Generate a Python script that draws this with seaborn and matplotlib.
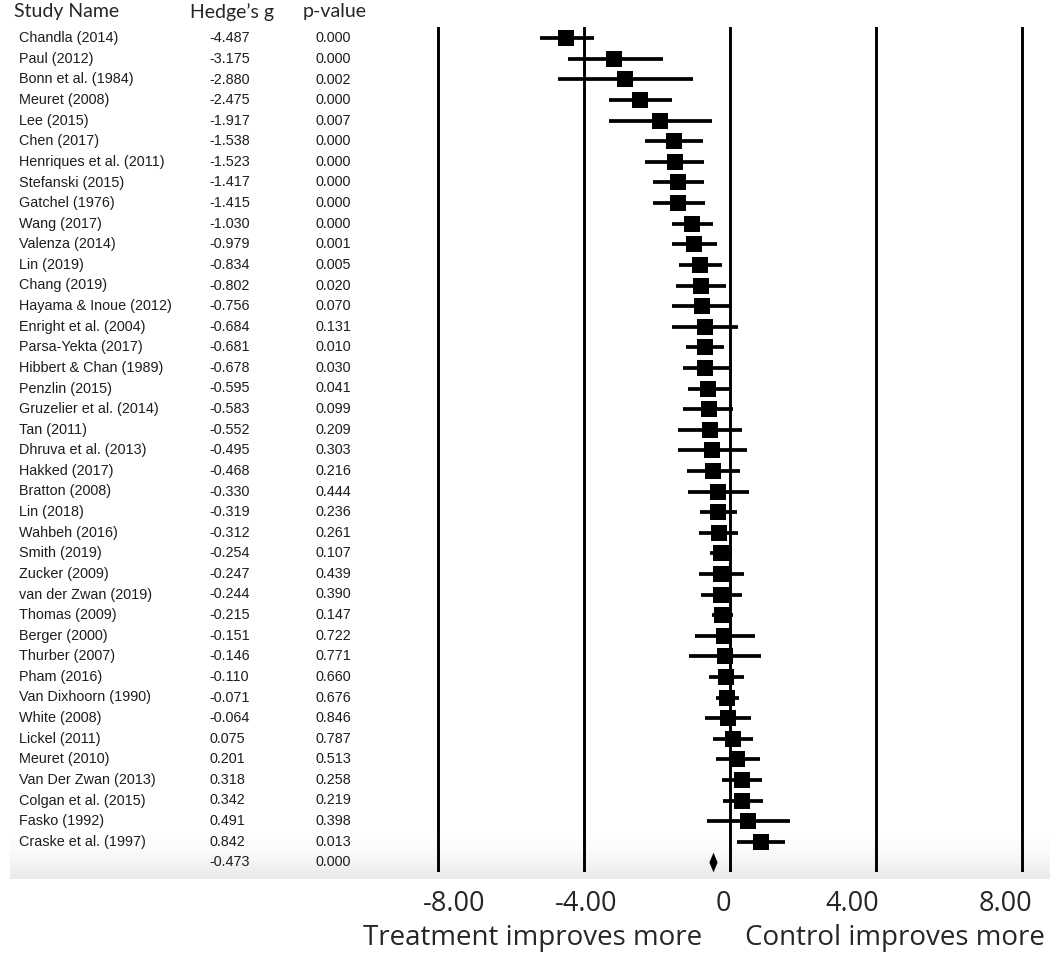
import numpy as np
import pandas as pd
import matplotlib
matplotlib.use("Agg")
import matplotlib.pyplot as plt
from matplotlib.path import Path
from matplotlib.transforms import ScaledTranslation, blended_transform_factory
import seaborn as sns

# ---- data ----
studies = ["Chandla (2014)", "Paul (2012)", "Bonn et al. (1984)", "Meuret (2008)",
           "Lee (2015)", "Chen (2017)", "Henriques et al. (2011)", "Stefanski (2015)",
           "Gatchel (1976)", "Wang (2017)", "Valenza (2014)", "Lin (2019)",
           "Chang (2019)", "Hayama & Inoue (2012)", "Enright et al. (2004)",
           "Parsa-Yekta (2017)", "Hibbert & Chan (1989)", "Penzlin (2015)",
           "Gruzelier et al. (2014)", "Tan (2011)", "Dhruva et al. (2013)",
           "Hakked (2017)", "Bratton (2008)", "Lin (2018)", "Wahbeh (2016)",
           "Smith (2019)", "Zucker (2009)", "van der Zwan (2019)", "Thomas (2009)",
           "Berger (2000)", "Thurber (2007)", "Pham (2016)", "Van Dixhoorn (1990)",
           "White (2008)", "Lickel (2011)", "Meuret (2010)", "Van Der Zwan (2013)",
           "Colgan et al. (2015)", "Fasko (1992)", "Craske et al. (1997)"]
hedges_g = [-4.487, -3.175, -2.880, -2.475, -1.917, -1.538, -1.523, -1.417, -1.415,
            -1.030, -0.979, -0.834, -0.802, -0.756, -0.684, -0.681, -0.678, -0.595,
            -0.583, -0.552, -0.495, -0.468, -0.330, -0.319, -0.312, -0.254, -0.247,
            -0.244, -0.215, -0.151, -0.146, -0.110, -0.071, -0.064, 0.075, 0.201,
            0.318, 0.342, 0.491, 0.842]
p_values = ["0.000", "0.000", "0.002", "0.000", "0.007", "0.000", "0.000", "0.000",
            "0.000", "0.000", "0.001", "0.005", "0.020", "0.070", "0.131", "0.010",
            "0.030", "0.041", "0.099", "0.209", "0.303", "0.216", "0.444", "0.236",
            "0.261", "0.107", "0.439", "0.390", "0.147", "0.722", "0.771", "0.660",
            "0.676", "0.846", "0.787", "0.513", "0.258", "0.219", "0.398", "0.013"]
ci_low = [-5.22, -4.44, -4.72, -3.32, -3.32, -2.32, -2.32, -2.12, -2.12, -1.58,
          -1.58, -1.40, -1.48, -1.58, -1.58, -1.21, -1.28, -1.15, -1.28, -1.42,
          -1.42, -1.19, -1.16, -0.82, -0.84, -0.55, -0.85, -0.80, -0.49, -0.96,
          -1.13, -0.59, -0.39, -0.69, -0.46, -0.38, -0.23, -0.20, -0.64, 0.18]
ci_high = [-3.74, -1.85, -1.01, -1.60, -0.49, -0.73, -0.71, -0.71, -0.69, -0.46,
           -0.37, -0.23, -0.12, 0.06, 0.23, -0.16, 0.00, 0.00, 0.09, 0.32,
           0.46, 0.27, 0.52, 0.20, 0.23, 0.05, 0.38, 0.32, 0.07, 0.69,
           0.84, 0.39, 0.26, 0.58, 0.62, 0.81, 0.87, 0.90, 1.65, 1.51]
pooled_g = -0.473
pooled_p = "0.000"

ticks = [-8, -4, 0, 4, 8]
tick_labels = ["-8.00", "-4.00", "0", "4.00", "8.00"]
tick_shift_px = [16, 2, -7, -24, -16]   # labels sit a bit off their lines

df = pd.DataFrame({"study": studies, "g": hedges_g, "lo": ci_low, "hi": ci_high})
df["row"] = np.arange(len(df))
pooled = pd.DataFrame({"g": [pooled_g], "row": [len(df)]})

sns.set_style("white")
plt.rcParams["font.family"] = ["Liberation Sans", "DejaVu Sans"]
big_font = ["Open Sans", "DejaVu Sans"]

W, H = 1050, 964
fig = plt.figure(figsize=(W / 100, H / 100), dpi=100)

# faint grey fade behind the last rows
bg = fig.add_axes([10 / W, 1 - 879 / H, 1 - 10 / W, 44 / H], zorder=0)
fade = 1 - 0.085 * np.linspace(0, 1, 60) ** 1.5
bg.imshow(np.repeat(fade[:, None, None], 3, axis=2), aspect="auto",
          interpolation="bilinear")
bg.axis("off")

ax = fig.add_axes([0, 1 - 872 / H, 1, (872 - 27) / H], zorder=1)
ax.patch.set_alpha(0)
px_per_unit = 36.44
ax.set_xlim(-730 / px_per_unit, (W - 730) / px_per_unit)
ax.set_ylim((872 - 38.3) / 20.6, (27 - 38.3) / 20.6)

for t in ticks:
    ax.axvline(t, color="black", lw=2.1, zorder=1)

ax.hlines(df["row"], df["lo"], df["hi"], color="black", lw=2.7, zorder=2)
sns.scatterplot(data=df, x="g", y="row", marker="s", s=140, color="black",
                linewidth=0, ax=ax, zorder=3, legend=False)
diamond = Path([(0, -1), (0.42, 0), (0, 1), (-0.42, 0), (0, -1)])
sns.scatterplot(data=pooled, x="g", y="row", marker=diamond, s=200, color="black",
                linewidth=0, ax=ax, zorder=3, legend=False)

# table columns
trans = blended_transform_factory(fig.transFigure, ax.transData)
rows_g = [f"{v:.3f}" for v in hedges_g] + [f"{pooled_g:.3f}"]
rows_p = p_values + [pooled_p]
for i in range(len(rows_g)):
    if i < len(studies):
        ax.text(19 / W, i, studies[i], transform=trans, ha="left", va="center",
                fontsize=10.4, color="#1e1e1e")
    ax.text(209 / W, i, rows_g[i], transform=trans, ha="left", va="center",
            fontsize=10.4, color="#1e1e1e")
    ax.text(315 / W, i, rows_p[i], transform=trans, ha="left", va="center",
            fontsize=10.4, color="#1e1e1e")

hdr = dict(fontsize=14, family=["Lato", "DejaVu Sans"], va="center", ha="left")
fig.text(14 / W, 1 - 12 / H, "Study Name", **hdr)
fig.text(190 / W, 1 - 12 / H, "Hedge\u2019s g", **hdr)
fig.text(303 / W, 1 - 12 / H, "p-value", **hdr)

ax.set_xticks(ticks, tick_labels)
ax.set_yticks([])
ax.tick_params(axis="x", length=0, pad=13, labelsize=19.5)
for lab, dx in zip(ax.get_xticklabels(), tick_shift_px):
    lab.set_family(big_font)
    lab.set_transform(lab.get_transform() + ScaledTranslation(dx / 100, 0, fig.dpi_scale_trans))
ax.set_xlabel("")
ax.set_ylabel("")
sns.despine(ax=ax, left=True, bottom=True)

fig.text(533 / W, 1 - 938 / H, "Treatment improves more", ha="center", va="center",
         fontsize=20, family=big_font)
fig.text(895 / W, 1 - 938 / H, "Control improves more", ha="center", va="center",
         fontsize=20, family=big_font)

fig.savefig("out.png", dpi=100)
